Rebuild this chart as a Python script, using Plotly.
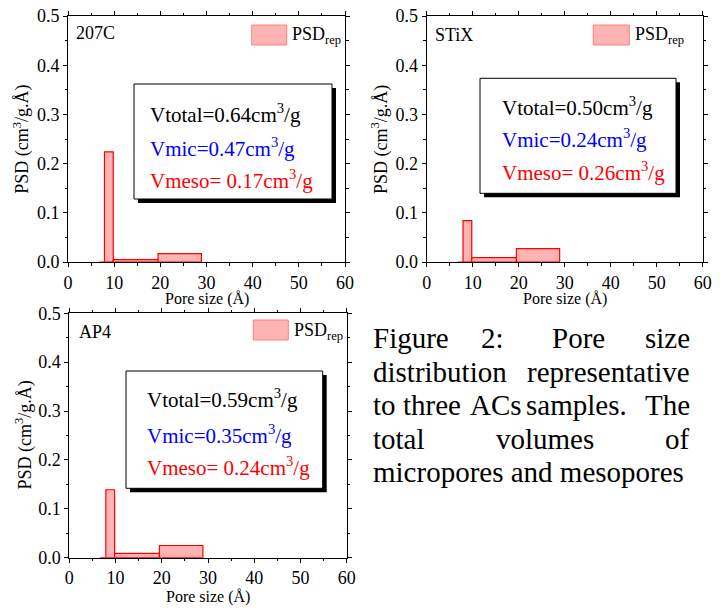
import plotly.graph_objects as go

# ---------------- data ----------------
bin_edges = [6.7, 7.9, 9.8, 19.5, 28.9]
psd_207c = [0.0, 0.224, 0.005, 0.017]
psd_stix = [0.0, 0.084, 0.009, 0.027]
psd_ap4 = [0.0, 0.139, 0.009, 0.025]
samples = ["207C", "STiX", "AP4"]
vtotal = ["0.64", "0.50", "0.59"]
vmic = ["0.47", "0.24", "0.35"]
vmeso = ["0.17", "0.26", "0.24"]
x_ticks = [0, 10, 20, 30, 40, 50, 60]
y_ticks = [0.0, 0.1, 0.2, 0.3, 0.4, 0.5]
caption_lines = [
    ["Figure", "2:", "Pore", "size"],
    ["distribution", "representative"],
    ["to", "three", "ACs", "samples.", "The"],
    ["total", "volumes", "of"],
    ["micropores and mesopores"],
]

# the page body adds an 8px margin, so the figure is drawn 8px smaller and
# all positions (measured in window pixels) are shifted by that offset
OFF = 8
W, H = 726 - OFF, 608 - OFF
FONT = "Liberation Serif, Times New Roman, serif"


def px(xp):
    return (xp - OFF) / W


def py(yp):
    return 1 - (yp - OFF) / H


centers = [(bin_edges[i] + bin_edges[i + 1]) / 2 for i in range(len(bin_edges) - 1)]
widths = [bin_edges[i + 1] - bin_edges[i] for i in range(len(bin_edges) - 1)]

# panel pixel geometry: (left, top, right, bottom)
panels = [(68, 16, 345, 262), (426.7, 16, 702.7, 262), (69.3, 313.3, 346.7, 557.7)]
series = [psd_207c, psd_stix, psd_ap4]

fig = go.Figure()
layout = dict(
    template="none",
    width=W, height=H, margin=dict(l=0, r=0, t=0, b=0, autoexpand=False),
    plot_bgcolor="white", paper_bgcolor="white", showlegend=False,
    font=dict(family=FONT, color="black"),
)
for i, (vals, (l, t, r, b)) in enumerate(zip(series, panels)):
    sfx = "" if i == 0 else str(i + 1)
    fig.add_trace(go.Bar(
        x=centers, y=vals, width=widths,
        marker=dict(color="#FFB4B4", line=dict(color="#FF0000", width=1.2)),
        xaxis="x" + sfx, yaxis="y" + sfx, name="PSD<sub>rep</sub>",
    ))
    axcommon = dict(showline=True, linecolor="black", linewidth=1, mirror="allticks",
                    ticks="outside", ticklen=4, tickcolor="black", showgrid=False,
                    zeroline=False, automargin=False, ticklabeloverflow="allow",
                    tickfont=dict(family=FONT, size=18, color="black"))
    layout["xaxis" + sfx] = dict(
        domain=[px(l), px(r)], range=[0, 60], tickvals=x_ticks,
        anchor="y" + sfx,
        minor=dict(dtick=5, ticklen=2.5, ticks="outside", tickcolor="black", showgrid=False),
        **axcommon)
    layout["yaxis" + sfx] = dict(
        domain=[py(b), py(t)], range=[0, 0.5], tickvals=y_ticks, tickformat=".1f",
        anchor="x" + sfx,
        minor=dict(dtick=0.05, ticklen=2.5, ticks="outside", tickcolor="black", showgrid=False),
        **axcommon)

fig.update_layout(**layout)

annotations = []
shapes = []

# axis titles
ytitle_x = [21.7, 380, 24]
xtitle_y = [298.5, 298.5, 597]
for i, (l, t, r, b) in enumerate(panels):
    annotations.append(dict(xref="paper", yref="paper", x=px(ytitle_x[i]), y=py((t + b) / 2),
                            text="PSD (cm<sup>3</sup>/g.Å)", textangle=-90, showarrow=False,
                            xanchor="center", yanchor="middle", font=dict(family=FONT, size=18)))
    annotations.append(dict(xref="paper", yref="paper", x=px((l + r) / 2), y=py(xtitle_y[i]),
                            text="Pore size (Å)", showarrow=False,
                            xanchor="center", yanchor="middle", font=dict(family=FONT, size=16)))

# sample labels
label_pos = [(74, 33), (433.3, 35), (77.3, 331.7)]
for i, (lx, ly) in enumerate(label_pos):
    annotations.append(dict(xref="paper", yref="paper", x=px(lx), y=py(ly), text=samples[i],
                            showarrow=False, xanchor="left", yanchor="middle",
                            font=dict(family=FONT, size=18)))

# legend swatches
legend_pos = [(251.7, 25, 286.7, 45, 290, 35), (593.3, 25, 629.3, 45, 633.3, 35),
              (253.3, 320, 288.3, 340, 291.7, 331.7)]
for (x0, y0, x1, y1, tx, ty) in legend_pos:
    shapes.append(dict(type="rect", xref="paper", yref="paper", x0=px(x0), x1=px(x1),
                       y0=py(y1), y1=py(y0), fillcolor="#FFB4B4",
                       line=dict(color="#FF8080", width=1)))
    annotations.append(dict(xref="paper", yref="paper", x=px(tx), y=py(ty),
                            text="PSD<sub>rep</sub>", showarrow=False, xanchor="left",
                            yanchor="middle", font=dict(family=FONT, size=18)))

# volume boxes
boxes = [(134, 84, 332, 199), (480, 78.3, 676, 193.3), (126, 371, 322.7, 488.3)]
text_left = [148, 500, 145]
text_y = [(113, 147, 180), (106.7, 139, 171), (398, 434, 466)]
for i, (x0, y0, x1, y1) in enumerate(boxes):
    shapes.append(dict(type="rect", xref="paper", yref="paper", x0=px(x0 + 4), x1=px(x1 + 4),
                       y0=py(y1 + 4), y1=py(y0 + 4), fillcolor="black", line=dict(width=0)))
    shapes.append(dict(type="rect", xref="paper", yref="paper", x0=px(x0), x1=px(x1),
                       y0=py(y1), y1=py(y0), fillcolor="white",
                       line=dict(color="black", width=1)))
    lines = [("Vtotal=" + vtotal[i] + "cm<sup>3</sup>/g", "black"),
             ("Vmic=" + vmic[i] + "cm<sup>3</sup>/g", "blue"),
             ("Vmeso= " + vmeso[i] + "cm<sup>3</sup>/g", "red")]
    for (txt, col), yy in zip(lines, text_y[i]):
        annotations.append(dict(xref="paper", yref="paper", x=px(text_left[i]), y=py(yy),
                                text=txt, showarrow=False, xanchor="left", yanchor="middle",
                                font=dict(family=FONT, size=21, color=col)))

# caption (justified by word placement)
cap_left, cap_right = 370.7, 691.7
word_centers = {
    0: {1: 492.5, 2: 578.3},
    2: {1: 432.5, 2: 495.8, 3: 576.7},
    3: {1: 545},
}
cap_y0, cap_pitch = 338, 33.5
for li, words in enumerate(caption_lines):
    yy = cap_y0 + li * cap_pitch
    n = len(words)
    for wi, w in enumerate(words):
        if wi == 0:
            xx, anc = cap_left, "left"
        elif wi == n - 1:
            xx, anc = cap_right, "right"
        else:
            xx, anc = word_centers[li][wi], "center"
        annotations.append(dict(xref="paper", yref="paper", x=px(xx), y=py(yy), text=w,
                                showarrow=False, xanchor=anc, yanchor="middle",
                                font=dict(family=FONT, size=29)))

fig.update_layout(annotations=annotations, shapes=shapes)
fig.write_html("out.html")
